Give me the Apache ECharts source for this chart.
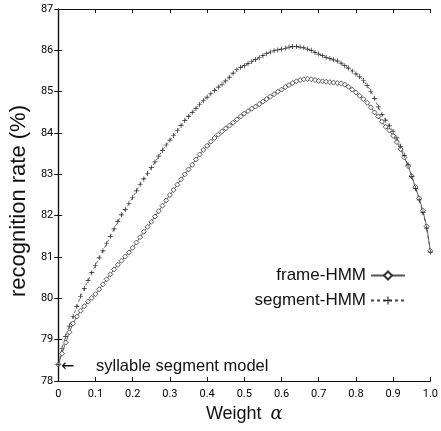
<!DOCTYPE html>
<html>
<head>
<meta charset="utf-8">
<script src="https://cdn.jsdelivr.net/npm/echarts@6/dist/echarts.min.js"></script>
<style>
html,body{margin:0;padding:0;background:#fff;}
#chart{width:441px;height:431px;}
</style>
</head>
<body>
<div id="chart"></div>
<script>
const alpha = [0,0.01,0.02,0.03,0.04,0.05,0.06,0.07,0.08,0.09,
  0.10,0.11,0.12,0.13,0.14,0.15,0.16,0.17,0.18,0.19,
  0.20,0.21,0.22,0.23,0.24,0.25,0.26,0.27,0.28,0.29,
  0.30,0.31,0.32,0.33,0.34,0.35,0.36,0.37,0.38,0.39,
  0.40,0.41,0.42,0.43,0.44,0.45,0.46,0.47,0.48,0.49,
  0.50,0.51,0.52,0.53,0.54,0.55,0.56,0.57,0.58,0.59,
  0.60,0.61,0.62,0.63,0.64,0.65,0.66,0.67,0.68,0.69,
  0.70,0.71,0.72,0.73,0.74,0.75,0.76,0.77,0.78,0.79,
  0.80,0.81,0.82,0.83,0.84,0.85,0.86,0.87,0.88,0.89,
  0.90,0.91,0.92,0.93,0.94,0.95,0.96,0.97,0.98,0.99,1.00];

const frameHMM = [78.40,78.66,78.93,79.18,79.39,79.56,79.70,79.81,79.92,80.01,
  80.10,80.22,80.34,80.46,80.58,80.70,80.81,80.91,81.01,81.11,
  81.22,81.35,81.48,81.61,81.73,81.85,81.98,82.11,82.24,82.37,
  82.50,82.62,82.75,82.88,83.00,83.12,83.23,83.36,83.48,83.59,
  83.69,83.79,83.88,83.96,84.04,84.11,84.18,84.25,84.33,84.40,
  84.47,84.53,84.59,84.64,84.70,84.76,84.82,84.88,84.94,85.00,
  85.05,85.11,85.16,85.21,85.25,85.28,85.30,85.31,85.30,85.28,
  85.26,85.25,85.24,85.23,85.22,85.21,85.20,85.17,85.12,85.05,
  84.98,84.90,84.82,84.73,84.62,84.50,84.40,84.27,84.15,84.06,
  83.93,83.78,83.61,83.41,83.20,82.96,82.69,82.42,82.12,81.74,81.15];

const segmentHMM = [78.40,78.78,79.08,79.33,79.56,79.80,80.05,80.24,80.43,80.62,
  80.80,80.98,81.15,81.32,81.50,81.68,81.86,82.02,82.15,82.30,
  82.44,82.60,82.76,82.89,83.02,83.16,83.30,83.44,83.58,83.71,
  83.83,83.94,84.06,84.18,84.30,84.40,84.50,84.59,84.69,84.78,
  84.87,84.95,85.03,85.11,85.18,85.26,85.35,85.45,85.53,85.59,
  85.63,85.68,85.73,85.78,85.82,85.87,85.92,85.96,85.99,86.01,
  86.03,86.05,86.08,86.09,86.09,86.08,86.06,86.03,86.00,85.95,
  85.91,85.87,85.83,85.80,85.77,85.74,85.69,85.63,85.57,85.50,
  85.43,85.36,85.27,85.15,85.01,84.84,84.63,84.45,84.31,84.17,
  84.03,83.88,83.68,83.46,83.23,82.95,82.66,82.38,82.08,81.70,81.12];

const seriesNames = ['frame-HMM', 'segment-HMM'];
const xTickLabels = ['0','0.1','0.2','0.3','0.4','0.5','0.6','0.7','0.8','0.9','1.0'];
const yTickLabels = ['78','79','80','81','82','83','84','85','86','87'];
const xTitleWord = 'Weight';
const xTitleSymbol = 'α';
const yTitle = 'recognition rate (%)';
const annotation = 'syllable segment model';

const tickFont = 'Roboto,"Liberation Sans",sans-serif';
const textFont = '"Liberation Sans",Arial,sans-serif';
const plusPath = 'path://M4.3,0H5.7V4.3H10V5.7H5.7V10H4.3V5.7H0V4.3H4.3Z';

const chart = echarts.init(document.getElementById('chart'), null, {renderer:'canvas'});
const axisLine = {show:true, lineStyle:{color:'#111', width:1.2}};
const tick = {show:true, inside:true, length:4, lineStyle:{color:'#111', width:1}};

chart.setOption({
  animation:false,
  backgroundColor:'#fff',
  grid:{left:50, right:8, top:9, bottom:50},
  legend:{
    orient:'vertical', right:30, top:262, align:'right', itemGap:8,
    itemWidth:34, itemHeight:10,
    textStyle:{fontFamily:textFont, fontSize:17, color:'#111'},
    data:seriesNames
  },
  xAxis:[
    {type:'value', min:0, max:1, interval:0.1, position:'bottom',
     axisLine:axisLine, axisTick:tick, splitLine:{show:false},
     axisLabel:{fontFamily:tickFont, fontSize:11, color:'#000', margin:8,
       formatter:(v)=>xTickLabels[Math.round(v*10)]},
     name:xTitleWord + ' {a|' + xTitleSymbol + '}', nameLocation:'middle', nameGap:22,
     nameTextStyle:{fontFamily:textFont, fontSize:18, color:'#111',
       rich:{a:{fontFamily:'"DejaVu Serif",serif', fontStyle:'italic', fontSize:18, color:'#111', padding:[0,0,0,4]}}}},
    {type:'value', min:0, max:1, interval:0.1, position:'top',
     axisLine:axisLine, axisTick:tick, splitLine:{show:false}, axisLabel:{show:false}}
  ],
  yAxis:[
    {type:'value', min:78, max:87, interval:1, position:'left',
     axisLine:axisLine, axisTick:tick, splitLine:{show:false},
     axisLabel:{fontFamily:tickFont, fontSize:11, color:'#000', margin:5,
       formatter:(v)=>yTickLabels[Math.round(v-78)]},
     name:yTitle, nameLocation:'middle', nameGap:20,
     nameTextStyle:{fontFamily:textFont, fontSize:22, color:'#111', padding:[0,12,0,0]}},
    {type:'value', min:78, max:87, interval:1, position:'right',
     axisLine:axisLine, axisTick:tick, splitLine:{show:false}, axisLabel:{show:false}}
  ],
  graphic:[
    {type:'text', left:61, top:359, style:{text:'←', fontFamily:'"DejaVu Sans",sans-serif', fontSize:16, fill:'#111'}},
    {type:'text', left:96, top:358, style:{text:annotation, fontFamily:textFont, fontSize:16.5, fill:'#111'}}
  ],
  series:[
    {name:seriesNames[0], type:'line', xAxisIndex:0, yAxisIndex:0,
     data:alpha.map((a,i)=>[a, frameHMM[i]]),
     symbol:'diamond', symbolSize:5, showAllSymbol:true,
     itemStyle:{color:'#fff', borderColor:'#333', borderWidth:0.8},
     lineStyle:{color:'#555', width:0.9, type:'solid'}},
    {name:seriesNames[1], type:'line', xAxisIndex:0, yAxisIndex:0,
     data:alpha.map((a,i)=>[a, segmentHMM[i]]),
     symbol:plusPath, symbolSize:5, showAllSymbol:true,
     itemStyle:{color:'#222'},
     lineStyle:{color:'#444', width:0.8, type:[3,3]}}
  ]
});
</script>
</body>
</html>
